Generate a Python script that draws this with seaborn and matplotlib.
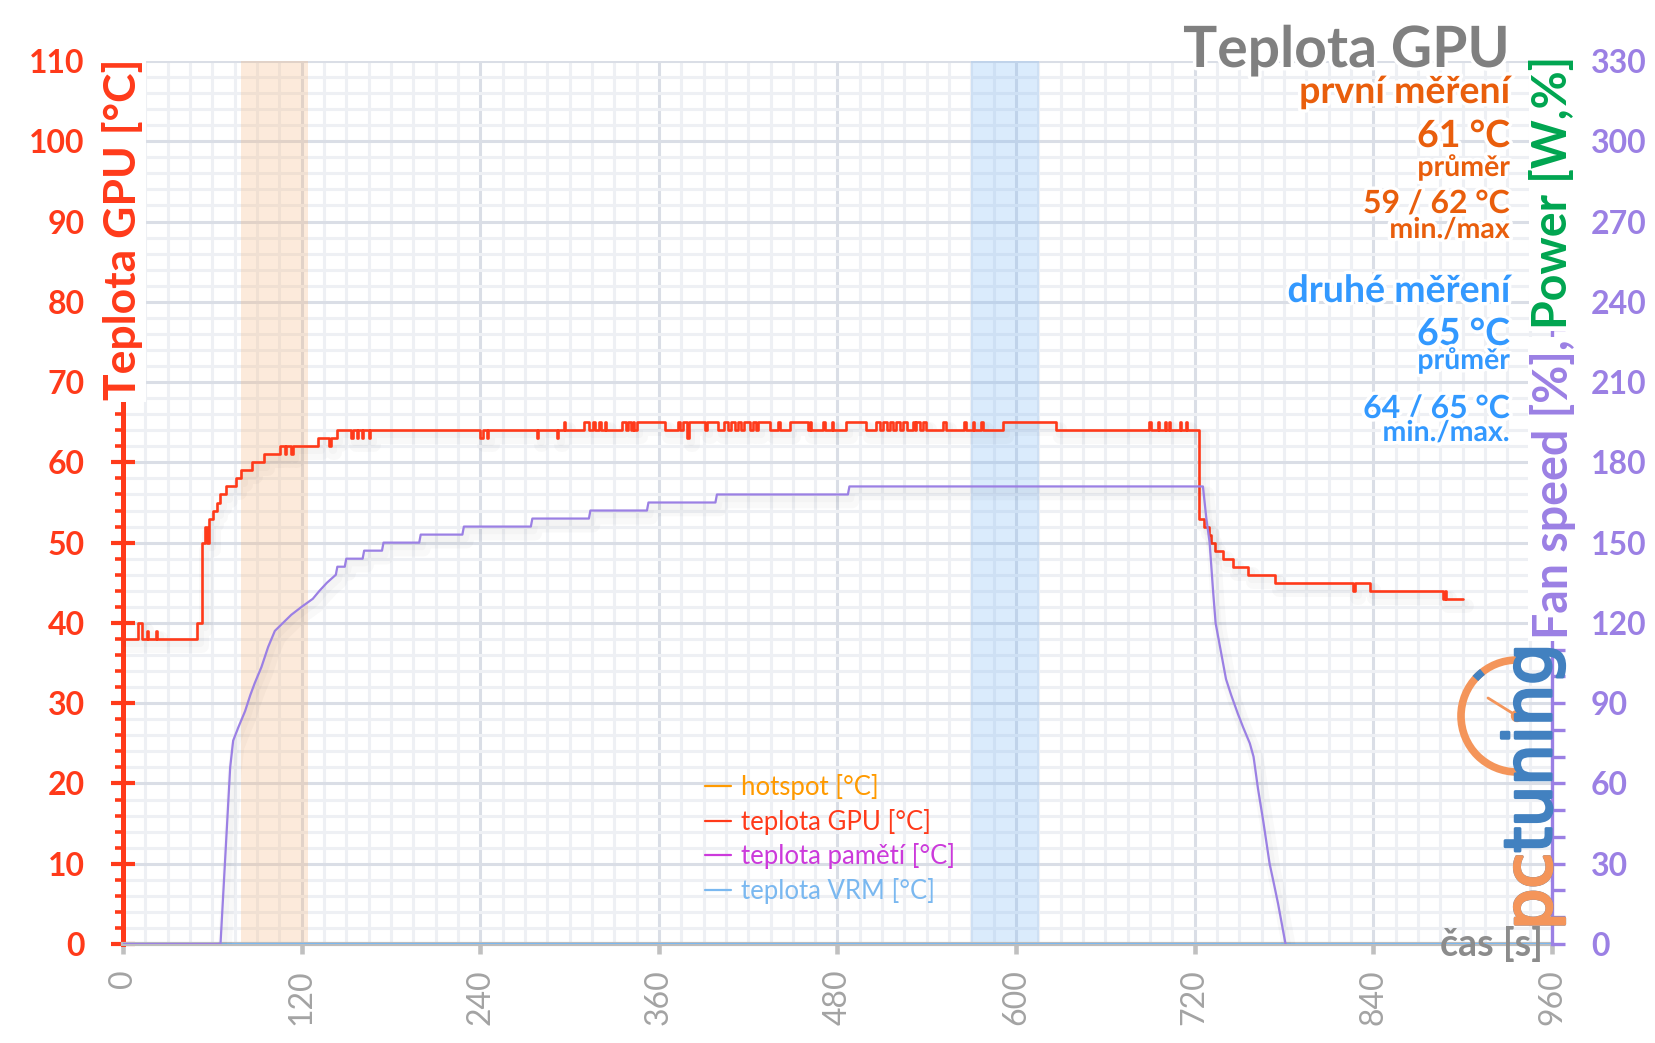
import numpy as np
import pandas as pd
import matplotlib
matplotlib.use("Agg")
import matplotlib.pyplot as plt
import seaborn as sns
from matplotlib.ticker import MultipleLocator
from matplotlib.lines import Line2D
from matplotlib import patheffects as pe
from matplotlib.patches import Arc, Circle

# ---------------- data ----------------
gpu_time = [0, 10, 13, 16, 17, 22, 23, 50, 53, 55, 56.5, 58, 60.5, 63, 65.5, 69.5, 76, 79.5, 86.5, 94.5,
            105.5, 108.5, 109.5, 113, 114, 131, 138.5, 139.5, 143.5,
            153.5, 154.5, 157, 158, 160.5, 161.5, 165, 166,
            240, 242, 244.5, 245.5, 278, 279, 291.5, 292.5, 296, 297,
            310, 313, 316, 317, 320, 321, 323.5, 324.5,
            335, 338, 339.5, 341, 342.5, 343.5, 345, 364, 373, 374.5, 376.5, 379, 380, 391, 392, 400,
            404, 406.5, 408.5, 411, 413, 415.5, 417.5, 421, 423, 425.5, 426.5, 434.5, 440, 441.5, 448,
            460, 461.5, 462.5, 470, 471.5, 476, 477, 486, 499,
            506, 508.5, 510.5, 513, 515, 517.5, 519.5, 522, 524, 526.5, 531, 532, 533, 535.5, 537.5, 539.5,
            551, 553, 565, 566, 571, 572, 576.5, 577.5, 591, 627,
            689.5, 690.5, 695, 696, 700, 701, 702.5, 703.5, 710, 711, 714, 715,
            723, 726, 729.5, 731, 733.5, 739, 745.5, 756, 774, 826.5, 827.5, 837.5, 887, 888, 889, 900]
gpu_temp = [38, 40, 38, 39, 38, 39, 38, 40, 50, 52, 50, 53, 54, 55, 56, 57, 58, 59, 60, 61,
            62, 61, 62, 61, 62, 63, 62, 63, 64,
            63, 64, 63, 64, 63, 64, 63, 64,
            63, 64, 63, 64, 63, 64, 63, 64, 65, 64,
            65, 64, 65, 64, 65, 64, 65, 64,
            65, 64, 65, 64, 65, 64, 65, 64, 65, 64, 65, 63, 65, 64, 65, 64,
            65, 64, 65, 64, 65, 64, 65, 64, 65, 64, 65, 64, 65, 64, 65,
            64, 65, 64, 65, 64, 65, 64, 65, 64,
            65, 64, 65, 64, 65, 64, 65, 64, 65, 64, 65, 64, 65, 64, 65, 64,
            65, 64, 65, 64, 65, 64, 65, 64, 65, 64,
            65, 64, 65, 64, 65, 64, 65, 64, 65, 64, 65, 64,
            53, 52, 51, 50, 49, 48, 47, 46, 45, 44, 45, 44, 43, 44, 43, 43]

fan_time = [0, 65.5, 72, 74, 77.5, 82, 85.5, 88.5, 93, 97.5, 102, 107.5, 113, 120, 127.5, 132, 137,
            143, 144, 149, 150, 161, 162, 174, 175, 199, 200, 228, 229, 274, 275, 313, 314,
            352, 353, 398, 399, 487, 488, 725.5, 727.8, 730, 732.3, 734, 738, 741, 744.5, 749,
            752.5, 757, 759.5, 762.5, 766, 770.3, 773, 776, 781]
fan_value = [0, 0, 66, 76, 81, 87, 93, 97.5, 103.5, 111, 117, 120, 123, 126, 129, 132, 135,
             138, 141, 141, 144, 144, 147, 147, 150, 150, 153, 153, 156, 156, 159, 159, 162,
             162, 165, 165, 168, 168, 171, 171, 159, 150, 132, 120, 108, 99, 93, 86,
             81, 75, 70, 58, 46, 30, 23, 15, 0]

vrm_time = [0, 960]
vrm_temp = [0, 0]

x_ticks = [0, 120, 240, 360, 480, 600, 720, 840, 960]
left_ticks = list(range(0, 111, 10))
right_ticks = list(range(0, 331, 30))
band_first = (79.5, 124.5)
band_second = (570, 615.5)

legend_labels = ["hotspot [°C]", "teplota GPU [°C]", "teplota pamětí [°C]", "teplota VRM [°C]"]
legend_colors = ["#FF9A00", "#FF3A1A", "#CC3ADB", "#7AB8F0"]

first_lines = ["první měření", "61 °C", "průměr", "59 / 62 °C", "min./max"]
second_lines = ["druhé měření", "65 °C", "průměr", "64 / 65 °C", "min./max."]

# ---------------- style ----------------
sns.set_theme(style="white")
plt.rcParams["font.family"] = ["Lato", "DejaVu Sans"]

RED = "#FF3A1A"
PURPLE = "#9B80E4"
GREEN = "#00A550"
ORANGE_T = "#E95E0C"
BLUE_T = "#3399FF"
GRAY = "#808080"

W, H = 1656, 1043
fig = plt.figure(figsize=(W / 100, H / 100), dpi=100)
fig.patch.set_facecolor("white")
ax = fig.add_axes([123 / W, 1 - 944 / H, (1552 - 123) / W, (944 - 61) / H])
ax.set_facecolor("white")
ax2 = ax.twinx()

ax.set_xlim(0, 960)
ax.set_ylim(0, 110)
ax2.set_ylim(0, 330)

# grid
ax.set_axisbelow(True)
ax.xaxis.set_minor_locator(MultipleLocator(15))
ax.yaxis.set_minor_locator(MultipleLocator(2))
ax.grid(which="minor", color="#EEF0F4", lw=2.2)
ax.grid(which="major", color="#DADEE6", lw=2.2)

# bands
ax.axvspan(*band_first, color="#F7B57A", alpha=0.27, lw=0, zorder=1)
ax.axvspan(*band_second, color="#7DB9F5", alpha=0.28, lw=0, zorder=1)

shadow = [pe.SimpleLineShadow(offset=(3, -5), shadow_color="#000000", alpha=0.025, linewidth=10),
          pe.SimpleLineShadow(offset=(2, -3), shadow_color="#000000", alpha=0.02, linewidth=5),
          pe.Normal()]

sns.lineplot(x=vrm_time, y=vrm_temp, ax=ax, color=legend_colors[3], lw=2.2, estimator=None, sort=False, zorder=4)
sns.lineplot(x=gpu_time, y=gpu_temp, ax=ax, color=RED, lw=1.9, drawstyle="steps-post",
             estimator=None, sort=False, zorder=5, path_effects=shadow)
sns.lineplot(x=fan_time, y=fan_value, ax=ax2, color=PURPLE, lw=1.6, estimator=None, sort=False,
             zorder=5, path_effects=shadow)
ax2.set_ylim(0, 330)
ax.set_xlim(0, 960)
ax.set_ylim(0, 110)

# spines
for s in ["top", "right"]:
    ax.spines[s].set_visible(False)
for s in ["top", "left", "bottom"]:
    ax2.spines[s].set_visible(False)
ax.spines["left"].set_color(RED)
ax.spines["left"].set_linewidth(3.6)
ax.spines["bottom"].set_color("#BDBDBD")
ax.spines["bottom"].set_linewidth(3)
ax2.spines["right"].set_color(PURPLE)
ax2.spines["right"].set_linewidth(2.4)

# ticks
ax.set_xticks(x_ticks)
ax.set_xticklabels([str(t) for t in x_ticks], rotation=90, fontsize=23, color="#A3A3A3")
ax.tick_params(axis="x", which="major", direction="out", length=7, width=3.3, color="#C0C0C0", pad=11, bottom=True)
ax.tick_params(axis="x", which="minor", length=0)
ax.set_yticks(left_ticks)
ax.set_yticklabels([str(t) for t in left_ticks], fontsize=23, color=RED, fontweight="bold")
ax.tick_params(axis="y", which="major", direction="inout", length=17, width=3, color=RED, pad=19, left=True)
ax.tick_params(axis="y", which="minor", direction="out", length=6, width=2.6, color=RED, left=True)
ax2.set_yticks(right_ticks)
ax2.set_yticklabels([str(t) for t in right_ticks], fontsize=23, color=PURPLE, fontweight="bold")
ax2.yaxis.set_minor_locator(MultipleLocator(10))
ax2.tick_params(axis="y", which="both", direction="out", length=9, width=2.4, color=PURPLE, pad=19, right=True)
ax.set_xlabel("")
ax.set_ylabel("")
ax2.set_ylabel("")

# legend
handles = [Line2D([0], [0], color=c, lw=1.6) for c in legend_colors]
leg = ax.legend(handles, legend_labels, loc="upper left", bbox_to_anchor=(0.40, 0.204),
                frameon=False, fontsize=18.5, handlelength=1.0, handletextpad=0.4,
                labelspacing=0.33, borderaxespad=0, labelcolor=legend_colors)
leg.set_zorder(6)

# ---------------- overlay (pixel coordinates) ----------------
ov = fig.add_axes([0, 0, 1, 1])
ov.set_xlim(0, W)
ov.set_ylim(H, 0)
ov.axis("off")
ov.patch.set_alpha(0)
ov.set_zorder(10)

halo = [pe.withStroke(linewidth=5, foreground="white")]
ov.text(1510, 67, "Teplota GPU", ha="right", va="baseline", fontsize=41, fontweight="bold",
        color=GRAY, path_effects=halo)
sizes = [27, 27, 20.5, 23, 20.5]
ys1 = [103, 147, 176, 213, 238]
ys2 = [302, 345, 369, 418, 441]
for txt, y, fs in zip(first_lines, ys1, sizes):
    ov.text(1510, y, txt, ha="right", va="baseline", fontsize=fs, fontweight="bold", color=ORANGE_T,
            path_effects=halo)
for txt, y, fs in zip(second_lines, ys2, sizes):
    ov.text(1510, y, txt, ha="right", va="baseline", fontsize=fs, fontweight="bold", color=BLUE_T,
            path_effects=halo)

# logo (drawn under the axis-name texts)
LOGO_O = "#F4955A"
LOGO_B = "#4281C0"
thick_b = [pe.withStroke(linewidth=2.2, foreground=LOGO_B)]
thick_o = [pe.withStroke(linewidth=2.2, foreground=LOGO_O)]
ov.text(1565, 930, "pctuning", rotation=90, ha="right", va="bottom", fontsize=47,
        family="DejaVu Sans", color=LOGO_B, path_effects=thick_b)
ov.text(1565, 930, "pc", rotation=90, ha="right", va="bottom", fontsize=47,
        family="DejaVu Sans", color=LOGO_O, path_effects=thick_o)
ov.add_patch(Arc((1517, 716), 112, 112, theta1=90, theta2=270, lw=5.5, color=LOGO_O))
ov.add_patch(Arc((1517, 716), 112, 112, theta1=222, theta2=232, lw=5.5, color=LOGO_B))
ov.plot([1517, 1488], [716, 698], color=LOGO_O, lw=2, solid_capstyle="round")
ov.add_patch(Circle((1517, 716), 5.5, color=LOGO_O))

# axis labels
ov.text(123, 58, "Teplota GPU [°C]", rotation=90, ha="center", va="top", fontsize=32,
        fontweight="bold", color=RED, bbox=dict(fc="white", ec="none", pad=1.5))
pw = ov.text(1553, 56, "Power [W,%]", rotation=90, ha="center", va="top", fontsize=33.5,
             fontweight="bold", color=GREEN, bbox=dict(fc="white", ec="none", pad=1.5))
fig.canvas.draw()
bb = pw.get_window_extent()
y_end = H - bb.y0 + 10
ov.text(1553, y_end, "Fan speed [%],", rotation=90, ha="center", va="top", fontsize=33.5,
        fontweight="bold", color=PURPLE, bbox=dict(fc="white", ec="none", pad=1.5))

ov.text(1543, 956, "čas [s]", ha="right", va="baseline", fontsize=27, fontweight="bold",
        color="#8C8C8C")

fig.savefig("out.png", dpi=100, facecolor="white")
